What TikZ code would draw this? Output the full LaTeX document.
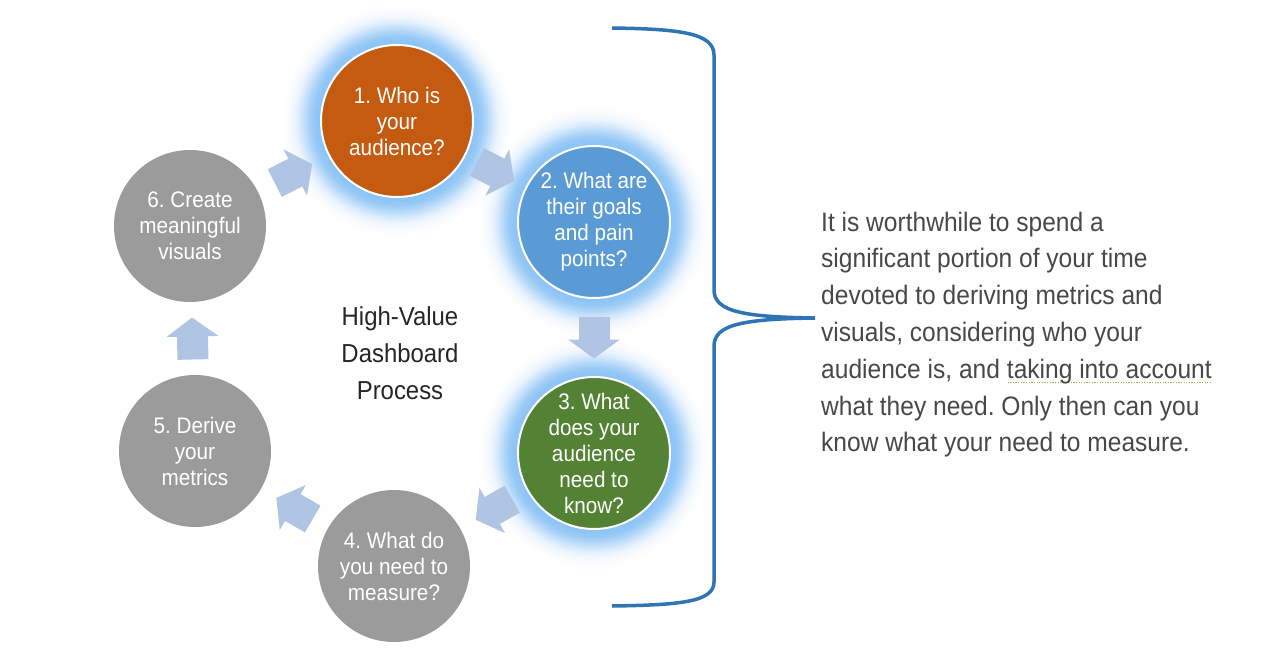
\documentclass[tikz,border=0pt]{standalone}
\usepackage{fontspec}
\setmainfont{Liberation Sans}[FakeStretch=0.92]
\usetikzlibrary{arrows.meta,calc}
\definecolor{orangec}{HTML}{C55A11}
\definecolor{bluec}{HTML}{5B9BD5}
\definecolor{greenc}{HTML}{548235}
\definecolor{grayc}{HTML}{9B9B9B}
\definecolor{arrowc}{HTML}{B0C4E4}
\definecolor{bracec}{HTML}{2E75B6}
\definecolor{glowc}{RGB}{140,196,245}
\definecolor{ulc}{HTML}{C8A050}
\definecolor{txt}{HTML}{484848}
\definecolor{ctxt}{HTML}{262626}
\newsavebox\ulbox
\newcommand\dotul[1]{\leavevmode\sbox\ulbox{#1}\rlap{\raisebox{-5pt}{\color{ulc}\hbox to \wd\ulbox{\xleaders\hbox to 2.6pt{\hss\rule{1.3pt}{1.3pt}\hss}\hfill}}}\usebox\ulbox}
\frenchspacing
\begin{document}
\begin{tikzpicture}[x=1pt,y=-1pt,
  stage/.style={circle,minimum size=152pt,inner sep=0pt,align=center,text=white,
    font=\fontsize{22.5}{26}\selectfont},
  lit/.style={stage,draw=white,line width=2pt},
  blockarrow/.style={draw=arrowc,line width=31pt,-{Triangle[length=19pt,width=51pt,fill=arrowc]}},
  bracestyle/.style={draw=bracec,line width=3.5pt}]
\useasboundingbox (0,0) rectangle (1263,650);
\fill[white] (0,0) rectangle (1263,650);
\coordinate (p1) at (397,121);
\coordinate (p2) at (594,222);
\coordinate (p3) at (594,453);
\coordinate (p4) at (394,566);
\coordinate (p5) at (195,451);
\coordinate (p6) at (190,226);
\foreach \p in {p1,p2,p3}{
  \foreach \d in {38,37,...,0}{
    \pgfmathsetmacro\t{100*exp(-(\d/21)^2.4)}
    \fill[glowc!\t!white] (\p) circle (76+\d);
  }
}
\node[lit,fill=orangec] (c1) at (p1) {1. Who is\\your\\audience?};
\node[lit,fill=bluec] (c2) at (p2) {2. What are\\their goals\\and pain\\points?};
\node[lit,fill=greenc] (c3) at (p3) {3. What\\does your\\audience\\need to\\know?};
\node[stage,fill=grayc] (c4) at (p4) {4. What do\\you need to\\measure?};
\node[stage,fill=grayc] (c5) at (p5) {5. Derive\\your\\metrics};
\node[stage,fill=grayc] (c6) at (p6) {6. Create\\meaningful\\visuals};
\draw[blockarrow] ($(c1)!0.5!(c2)!-21pt!(c2)$) -- ($(c1)!0.5!(c2)!21pt!(c2)$);
\draw[blockarrow] ($(c2)!0.5!(c3)!-21pt!(c3)$) -- ($(c2)!0.5!(c3)!21pt!(c3)$);
\draw[blockarrow] ($(c3)!0.5!(c4)!-21pt!(c4)$) -- ($(c3)!0.5!(c4)!21pt!(c4)$);
\draw[blockarrow] ($(c4)!0.5!(c5)!-21pt!(c5)$) -- ($(c4)!0.5!(c5)!21pt!(c5)$);
\draw[blockarrow] ($(c5)!0.5!(c6)!-21pt!(c6)$) -- ($(c5)!0.5!(c6)!21pt!(c6)$);
\draw[blockarrow] ($(c6)!0.5!(c1)!-21pt!(c1)$) -- ($(c6)!0.5!(c1)!21pt!(c1)$);
\node[align=center,text=ctxt,font=\fontsize{26}{36.8}\selectfont] (title) at (400,353) {High-Value\\Dashboard\\Process};
\coordinate (tip) at (815,318);
\draw[bracestyle] (612,28) .. controls (680,29) and (714,33) .. (714,55) -- (714,290)
  .. controls (714,312) and (745,317) .. (tip)
  .. controls (745,319) and (714,324) .. (714,346) -- (714,582)
  .. controls (714,602) and (680,605) .. (612,606);
\node[anchor=north west,inner sep=0pt,align=left,text=txt,font=\fontsize{26.7}{36.8}\selectfont] (para) at (821,211.5)
  {It is worthwhile to spend a\\significant portion of your time\\devoted to deriving metrics and\\visuals, considering who your\\audience is, and \dotul{taking into account}\\what they need. Only then can you\\know what your need to measure.};
\end{tikzpicture}
\end{document}
